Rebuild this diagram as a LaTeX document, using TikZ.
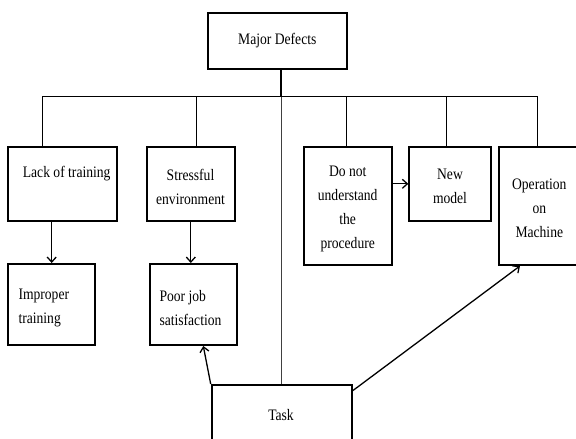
\documentclass[tikz,border=0pt]{standalone}
\usepackage{fontspec}
\setmainfont{Liberation Serif}[FakeStretch=0.85]
\usetikzlibrary{arrows.meta}
\begin{document}
\begin{tikzpicture}[x=1pt,y=-1pt,
  box/.style={draw, line width=2pt, inner sep=0pt},
  txt/.style={inner sep=0pt, align=center, font=\fontsize{16}{24}\selectfont},
  ltxt/.style={inner sep=0pt, align=left, font=\fontsize{16}{24}\selectfont},
  conn/.style={line width=1.3pt},
  thinline/.style={line width=1pt, black!75},
  arr/.style={line width=1.3pt, -{Straight Barb[length=5pt,width=9pt,line width=1.3pt]}}]
\useasboundingbox (0,0) rectangle (576,439);
% boxes
\node[box, minimum width=139.6pt, minimum height=56pt] (md) at (277.5,41.3) {};
\node[box, minimum width=109pt, minimum height=74.3pt] (lack) at (62.8,183.8) {};
\node[box, minimum width=88.3pt, minimum height=74.3pt] (stress) at (190.8,183.8) {};
\node[box, minimum width=87.4pt, minimum height=118.3pt] (donot) at (348,205.8) {};
\node[box, minimum width=81.4pt, minimum height=74.3pt] (new) at (450,183.8) {};
\node[box, minimum width=78.7pt, minimum height=118.3pt] (op) at (538.7,205.8) {};
\node[box, minimum width=86.7pt, minimum height=81pt] (improper) at (51.7,304.5) {};
\node[box, minimum width=87.3pt, minimum height=81pt] (poor) at (193.7,304.5) {};
\node[box, minimum width=140pt, minimum height=56pt] (task) at (281.7,413) {};
% texts
\node[txt] (mdT) at (277.3,40.5) {Major Defects};
\node[txt] (lackT) at (66.7,174) {Lack of training};
\node[txt] (stressT) at (190.5,187) {Stressful\\environment};
\node[txt] (donotT) at (347.7,208.7) {Do not\\understand\\the\\procedure};
\node[txt] (newT) at (450,186.5) {New\\model};
\node[txt] (opT) at (539.3,208) {Operation\\on\\Machine};
\node[ltxt, anchor=west] (improperT) at (18.3,307.7) {Improper\\training};
\node[ltxt, anchor=west] (poorT) at (159.3,307.7) {Poor job\\satisfaction};
\node[txt] (taskT) at (281,415.5) {Task};
% tree connectors
\coordinate (barL) at (42.3,96.5);
\coordinate (barR) at (537.7,96.5);
\coordinate (d2) at (196.7,96.5);
\coordinate (d4) at (346.7,96.5);
\coordinate (d5) at (446.7,96.5);
\coordinate (mid) at (281,96.5);
\draw[conn] (barL) -- (barR);
\draw[conn] (mid |- md.south) -- (mid);
\draw[thinline] (mid) -- (mid |- task.north);
\draw[conn] (barL) -- (barL |- lack.north);
\draw[conn] (d2) -- (d2 |- stress.north);
\draw[conn] (d4) -- (d4 |- donot.north);
\draw[conn] (d5) -- (d5 |- new.north);
\draw[conn] (barR) -- (barR |- op.north);
% arrows
\draw[arr] (lack.south -| improper.north) -- (improper.north);
\draw[arr] (stress.south) -- (stress.south |- poor.north);
\draw[arr] (donot.east |- new.west) -- (new.west);
\draw[arr] (task.north west) -- ([xshift=9.6pt]poor.south);
\draw[arr] ([yshift=-6.7pt]task.north east) -- ([xshift=-18.7pt]op.south);
\end{tikzpicture}
\end{document}
